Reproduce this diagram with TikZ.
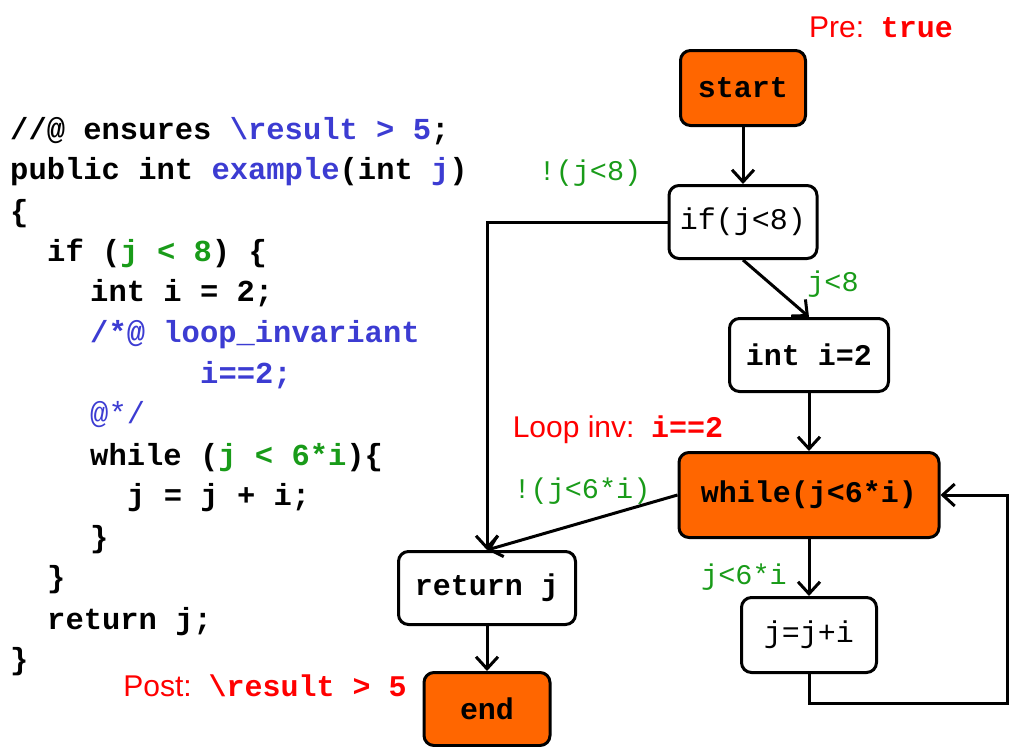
\documentclass[tikz,border=0pt]{standalone}
\usepackage{fontspec}
\setmainfont{Liberation Sans}
\setmonofont{Liberation Mono}
\usepackage{xcolor}
\usetikzlibrary{positioning,arrows.meta}
\definecolor{cfgorange}{RGB}{255,102,0}
\definecolor{specblue}{RGB}{60,60,210}
\definecolor{condgreen}{RGB}{25,155,25}
\definecolor{notered}{RGB}{255,0,0}

\begin{document}
\begin{tikzpicture}[
x=1pt, y=-1pt,
box/.style={draw, line width=3pt, rounded corners=10pt, align=center, minimum height=73pt, inner sep=0pt, font=\fontsize{30}{36}\selectfont\ttfamily\bfseries, fill=white},
hot/.style={box, fill=cfgorange},
thin/.style={font=\fontsize{30}{36}\selectfont\ttfamily\mdseries},
arr/.style={-{Straight Barb[length=12pt,width=22pt]}, line width=3pt},
code/.style={anchor=base west, inner sep=0pt, font=\fontsize{30.5}{36}\selectfont\ttfamily\bfseries},
guard/.style={text=condgreen, inner sep=0pt, font=\fontsize{28.5}{34}\selectfont\ttfamily},
note/.style={text=notered, inner sep=0pt, font=\fontsize{30}{36}\selectfont}
]
\useasboundingbox (0,0) rectangle (1010,747);

% source code
\node[code] (c1) at (10,139) {//@ ensures \textcolor{specblue}{\textbackslash result > 5};};
\node[code] (c2) at (10,179) {public int \textcolor{specblue}{example}(int \textcolor{specblue}{j})};
\node[code] (c3) at (10,221) {\{};
\node[code] (c4) at (47,261) {if (\textcolor{condgreen}{j < 8}) \{};
\node[code] (c5) at (90,301) {int i = 2;};
\node[code] (c6) at (90,342) {\textcolor{specblue}{/*@ loop\_invariant}};
\node[code] (c7) at (200,383) {\textcolor{specblue}{i==2;}};
\node[code] (c8) at (90,423) {\textcolor{specblue}{\mdseries @*/}};
\node[code] (c9) at (90,465) {while (\textcolor{condgreen}{j < 6*i})\{};
\node[code] (c10) at (127,505) {j = j + i;};
\node[code] (c11) at (90,547) {\}};
\node[code] (c12) at (47,587) {\}};
\node[code] (c13) at (47,629) {return j;};
\node[code] (c14) at (10,669) {\}};

% control flow graph
\node[hot, minimum width=125pt, minimum height=75pt] (start) at (743,88) {start};
\node[box, thin, minimum width=148pt, below=57pt of start] (ifj) {if(j<8)};
\node[box, minimum width=159pt, below=57pt of ifj, xshift=66pt] (init) {int i=2};
\node[hot, minimum width=260pt, minimum height=85pt, below=58pt of init] (loop) {while(j<6*i)};
\node[box, thin, minimum width=135pt, minimum height=75pt, below=57pt of loop] (body) {j=j+i};
\node[box, minimum width=177pt] (ret) at (487,588) {return j};
\node[hot, minimum width=126pt, below=45pt of ret] (stop) {end};
\coordinate (back) at (1007,703);

\draw[arr] (start) -- (ifj);
\draw[arr] (ifj.west) -| (ret.north);
\draw[arr] (ifj.south) -- (init.north);
\draw[arr] (init) -- (loop);
\draw[arr] (loop.west) -- (ret.north);
\draw[arr] (loop) -- (body);
\draw[arr] (body.south) |- (back) |- (loop.east);
\draw[arr] (ret) -- (stop);

% edge labels and annotations
\node[guard] (nif) at (590,173) {!(j<8)};
\node[guard] (yif) at (833,284) {j<8};
\node[guard] (nloop) at (582,491) {!(j<6*i)};
\node[guard] (yloop) at (744,577) {j<6*i};
\node[note] (pre) at (881,27) {Pre:\ \ \texttt{\bfseries true}};
\node[note] (inv) at (618,430) {Loop inv:\ \ \texttt{\bfseries i==2}};
\node[note] (post) at (265,686) {Post:\ \ \texttt{\bfseries\textbackslash result > 5}};
\end{tikzpicture}
\end{document}
